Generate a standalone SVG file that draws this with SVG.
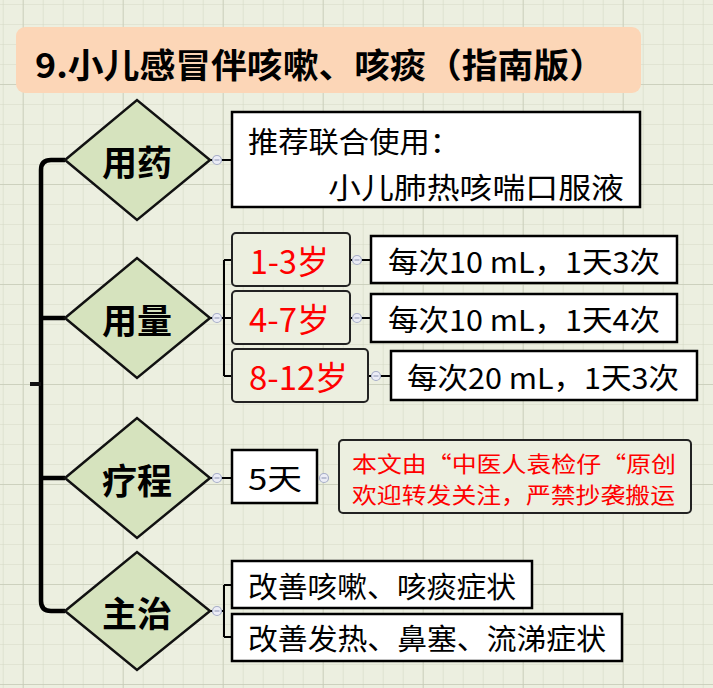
<svg xmlns="http://www.w3.org/2000/svg" width="713" height="688" viewBox="0 0 713 688">
<defs>
<pattern id="minor" x="2.7" y="4" width="20" height="20" patternUnits="userSpaceOnUse">
<path d="M0 0 H20 M0 0 V20" stroke="#D5D9C6" stroke-width="1.2" fill="none"/>
</pattern>
<pattern id="major" x="22.7" y="84" width="100" height="100" patternUnits="userSpaceOnUse">
<path d="M0 0 H100 M0 0 V100" stroke="#C6CBB7" stroke-width="1.4" fill="none"/>
</pattern>
</defs>
<style>
.bg{fill:#ECEFE0}
.dia{fill:#D6E3BE;stroke:#111;stroke-width:2.5}
.dt{font-family:"Noto Sans CJK SC","Noto Sans",sans-serif;font-weight:bold;font-size:35px;fill:#000;text-anchor:middle;dominant-baseline:central}
.box{fill:#fff;stroke:#000;stroke-width:2.5}
.rbox{fill:#ECEFE0;stroke:#222;stroke-width:2;}
.t{font-family:"Noto Sans CJK SC","Noto Sans",sans-serif;font-size:29px;fill:#000;dominant-baseline:central}
.r{font-family:"Noto Sans CJK SC","Noto Sans",sans-serif;font-size:33px;fill:#F00;dominant-baseline:central}
.rs{font-family:"Noto Sans CJK SC","Noto Sans",sans-serif;font-size:22px;fill:#F00;dominant-baseline:central}
.ln{stroke:#000;stroke-width:2;fill:none}
.sp{stroke:#000;stroke-width:4.5;fill:none}
.knob circle{fill:#ECEDF6;stroke:#A7AEC8;stroke-width:1.2}
.knob path{stroke:#9AA0BC;stroke-width:1.2}
</style>
<rect class="bg" x="0" y="0" width="713" height="688"/>
<rect x="0" y="0" width="713" height="688" fill="url(#minor)"/>
<rect x="0" y="0" width="713" height="688" fill="url(#major)"/>

<g id="title">
<rect x="16" y="27" width="625" height="66" rx="9" fill="#FCD6B7"/>
<text x="35" y="63" font-family="'Noto Sans CJK SC','Noto Sans',sans-serif" font-weight="bold" font-size="34" fill="#000" dominant-baseline="central" textLength="570" lengthAdjust="spacingAndGlyphs">9.小儿感冒伴咳嗽、咳痰（指南版）</text>
</g>

<g id="connectors">
<path class="sp" d="M65 160 H51 Q41 160 41 170 V601 Q41 611 51 611 H65"/>
<path class="sp" d="M41 318 H65 M41 478 H65"/>
<path d="M30 384 H41" stroke="#111" stroke-width="4"/>
<path class="ln" d="M210 160 H232"/>
<path class="ln" d="M210 318 H224 M224 260 V376 M224 260 H232 M224 318 H232 M224 376 H232"/>
<path class="ln" d="M350 260 H371 M350 318 H371 M368 376 H391"/>
<path class="ln" d="M210 478 H232"/>
<path class="ln" d="M210 611 H224 M224 585 V637 M224 585 H232 M224 637 H232"/>
<g class="knob">
<circle cx="217" cy="160" r="4.5"/><path d="M214.5 160 H219.5"/>
<circle cx="217" cy="318" r="4.5"/><path d="M214.5 318 H219.5"/>
<circle cx="357" cy="260" r="4.5"/><path d="M354.5 260 H359.5"/>
<circle cx="357" cy="318" r="4.5"/><path d="M354.5 318 H359.5"/>
<circle cx="376" cy="376" r="4.5"/><path d="M373.5 376 H378.5"/>
<circle cx="217" cy="478" r="4.5"/><path d="M214.5 478 H219.5"/>
<circle cx="324" cy="478" r="4.5"/><path d="M321.5 478 H326.5"/>
<circle cx="217" cy="611" r="4.5"/><path d="M214.5 611 H219.5"/>
</g>
</g>

<g id="n-yongyao">
<path class="dia" d="M65 160 L137 100 L210 160 L137 220 Z"/>
<text class="dt" x="137" y="160">用药</text>
</g>
<g id="n-yongyao-c">
<rect class="box" x="232" y="112" width="408" height="95"/>
<text class="t" x="248" y="140" textLength="212" lengthAdjust="spacingAndGlyphs">推荐联合使用：</text>
<text class="t" x="328" y="186" textLength="296" lengthAdjust="spacingAndGlyphs">小儿肺热咳喘口服液</text>
</g>

<g id="n-yongliang">
<path class="dia" d="M65 318 L137 258 L210 318 L137 378 Z"/>
<text class="dt" x="137" y="318">用量</text>
</g>
<g id="n-a1">
<rect class="rbox" x="232" y="233" width="118" height="53" rx="4"/>
<text class="r" x="250" y="260" textLength="79" lengthAdjust="spacingAndGlyphs">1-3岁</text>
</g>
<g id="n-a2">
<rect class="rbox" x="232" y="291" width="118" height="53" rx="4"/>
<text class="r" x="249" y="318" textLength="81" lengthAdjust="spacingAndGlyphs">4-7岁</text>
</g>
<g id="n-a3">
<rect class="rbox" x="232" y="349" width="136" height="53" rx="4"/>
<text class="r" x="249" y="376" textLength="99" lengthAdjust="spacingAndGlyphs">8-12岁</text>
</g>
<g id="n-d1">
<rect class="box" x="371" y="236" width="306" height="47"/>
<text class="t" x="388" y="260" textLength="272" lengthAdjust="spacingAndGlyphs">每次10 mL，1天3次</text>
</g>
<g id="n-d2">
<rect class="box" x="371" y="294" width="306" height="48"/>
<text class="t" x="388" y="318" textLength="272" lengthAdjust="spacingAndGlyphs">每次10 mL，1天4次</text>
</g>
<g id="n-d3">
<rect class="box" x="391" y="351" width="306" height="49"/>
<text class="t" x="407" y="376" textLength="272" lengthAdjust="spacingAndGlyphs">每次20 mL，1天3次</text>
</g>

<g id="n-liaocheng">
<path class="dia" d="M65 478 L137 418 L210 478 L137 538 Z"/>
<text class="dt" x="137" y="478">疗程</text>
</g>
<g id="n-5tian">
<rect class="box" x="232" y="450" width="85" height="53"/>
<text class="t" x="248" y="477" textLength="54" lengthAdjust="spacingAndGlyphs">5天</text>
</g>
<g id="n-note">
<rect class="rbox" x="339" y="440" width="352" height="73" rx="4" stroke="#111"/>
<text class="rs" x="352" y="462" textLength="324" lengthAdjust="spacingAndGlyphs">本文由“中医人袁检仔“原创</text>
<text class="rs" x="352" y="493" textLength="323" lengthAdjust="spacingAndGlyphs">欢迎转发关注，严禁抄袭搬运</text>
</g>

<g id="n-zhuzhi">
<path class="dia" d="M65 611 L137 552 L210 611 L137 670 Z"/>
<text class="dt" x="137" y="611">主治</text>
</g>
<g id="n-z1">
<rect class="box" x="232" y="561" width="300" height="47"/>
<text class="t" x="248" y="585" textLength="268" lengthAdjust="spacingAndGlyphs">改善咳嗽、咳痰症状</text>
</g>
<g id="n-z2">
<rect class="box" x="232" y="614" width="390" height="47"/>
<text class="t" x="248" y="637" textLength="358" lengthAdjust="spacingAndGlyphs">改善发热、鼻塞、流涕症状</text>
</g>
</svg>
